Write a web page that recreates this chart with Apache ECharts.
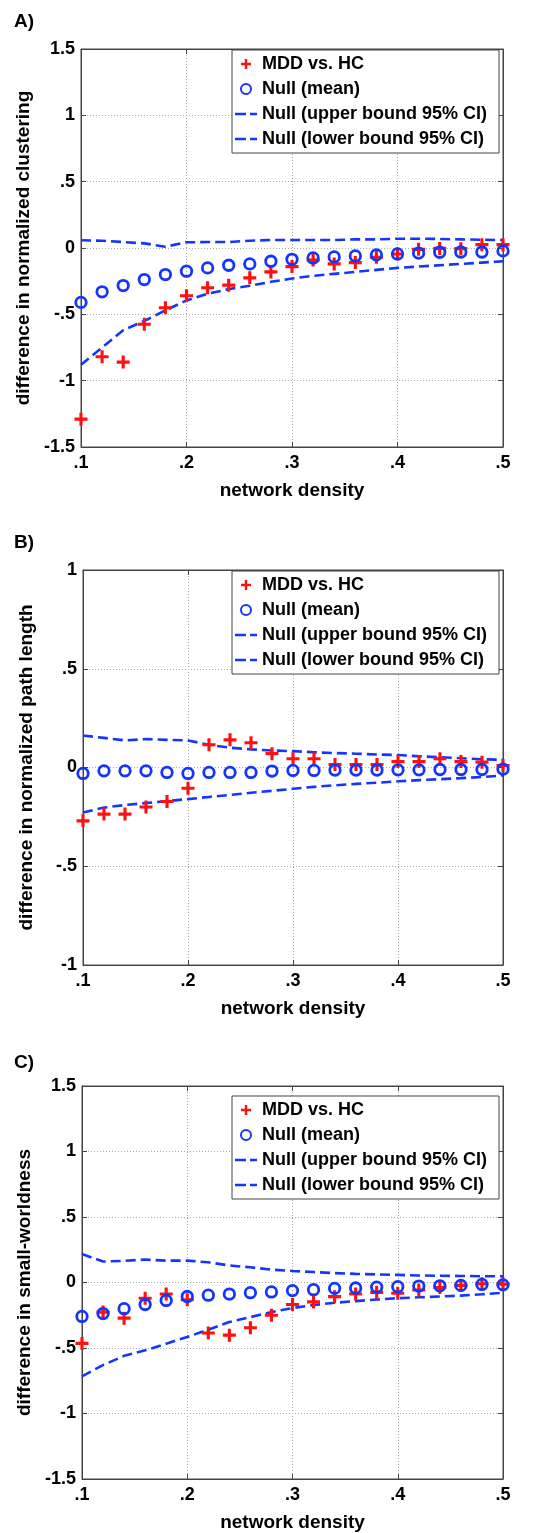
<!DOCTYPE html>
<html><head><meta charset="utf-8">
<script src="https://cdn.jsdelivr.net/npm/echarts@6/dist/echarts.min.js"></script>
<style>html,body{margin:0;padding:0;background:#fff}#c{width:533px;height:1533px}</style>
</head><body><div id="c"></div>
<script>
// ---- data ----
const density = [0.10, 0.12, 0.14, 0.16, 0.18, 0.20, 0.22, 0.24, 0.26, 0.28, 0.30, 0.32, 0.34, 0.36, 0.38, 0.40, 0.42, 0.44, 0.46, 0.48, 0.50];
const seriesNames = ['MDD vs. HC', 'Null (mean)', 'Null (upper bound 95% CI)', 'Null (lower bound 95% CI)'];
const panelLabels = ['A)', 'B)', 'C)'];
const yAxisNames = ['difference in normalized clustering', 'difference in normalized path length', 'difference in small-worldness'];
const xAxisName = 'network density';
const yRanges = [[-1.5, 1.5], [-1, 1], [-1.5, 1.5]];

// Panel A: clustering
const mddA  = [-1.29, -0.82, -0.86, -0.575, -0.45, -0.36, -0.30, -0.28, -0.225, -0.18, -0.14, -0.09, -0.12, -0.11, -0.07, -0.045, -0.01, -0.003, -0.005, 0.025, 0.025];
const nullA = [-0.41, -0.33, -0.283, -0.238, -0.20, -0.175, -0.15, -0.13, -0.12, -0.10, -0.085, -0.075, -0.067, -0.06, -0.052, -0.045, -0.038, -0.032, -0.03, -0.03, -0.022];
const upA   = [0.058, 0.055, 0.045, 0.035, 0.01, 0.043, 0.045, 0.045, 0.055, 0.06, 0.06, 0.06, 0.06, 0.065, 0.065, 0.07, 0.07, 0.068, 0.065, 0.062, 0.06];
const loA   = [-0.88, -0.75, -0.62, -0.55, -0.47, -0.395, -0.345, -0.31, -0.285, -0.255, -0.23, -0.21, -0.195, -0.18, -0.165, -0.15, -0.14, -0.13, -0.12, -0.11, -0.10];

// Panel B: path length
const mddB  = [-0.27, -0.236, -0.236, -0.20, -0.172, -0.105, 0.115, 0.14, 0.125, 0.07, 0.044, 0.044, 0.015, 0.015, 0.015, 0.03, 0.03, 0.044, 0.03, 0.027, 0.01];
const nullB = [-0.03, -0.017, -0.017, -0.017, -0.025, -0.03, -0.025, -0.025, -0.025, -0.018, -0.015, -0.015, -0.013, -0.013, -0.013, -0.012, -0.012, -0.01, -0.01, -0.01, -0.008];
const upB   = [0.162, 0.15, 0.137, 0.144, 0.14, 0.137, 0.115, 0.10, 0.092, 0.086, 0.083, 0.077, 0.073, 0.07, 0.066, 0.063, 0.057, 0.052, 0.047, 0.042, 0.039];
const loB   = [-0.228, -0.203, -0.19, -0.18, -0.17, -0.16, -0.149, -0.139, -0.128, -0.118, -0.108, -0.098, -0.09, -0.083, -0.077, -0.07, -0.064, -0.059, -0.054, -0.048, -0.04];

// Panel C: small-worldness
const mddC  = [-0.465, -0.226, -0.272, -0.12, -0.088, -0.132, -0.385, -0.402, -0.345, -0.25, -0.168, -0.148, -0.108, -0.088, -0.075, -0.082, -0.057, -0.038, -0.022, -0.01, -0.012];
const nullC = [-0.259, -0.237, -0.20, -0.168, -0.137, -0.107, -0.097, -0.088, -0.078, -0.072, -0.062, -0.055, -0.045, -0.042, -0.035, -0.032, -0.027, -0.025, -0.022, -0.015, -0.018];
const upC   = [0.217, 0.16, 0.165, 0.175, 0.167, 0.167, 0.154, 0.13, 0.116, 0.098, 0.088, 0.08, 0.072, 0.066, 0.062, 0.058, 0.054, 0.051, 0.05, 0.048, 0.047];
const loC   = [-0.716, -0.63, -0.56, -0.518, -0.467, -0.416, -0.36, -0.302, -0.264, -0.226, -0.195, -0.172, -0.155, -0.142, -0.13, -0.12, -0.113, -0.107, -0.10, -0.09, -0.078];

const panels = [
  {mdd: mddA, nul: nullA, up: upA, lo: loA},
  {mdd: mddB, nul: nullB, up: upB, lo: loB},
  {mdd: mddC, nul: nullC, up: upC, lo: loC}
];

// ---- layout / style ----
const FONT = "'Liberation Sans', Arial, Helvetica, sans-serif";
const RED = '#ff1010', BLUE = '#1535ff', AXIS = '#444';
const grids = [
  {left: 81, top: 49, width: 422, height: 398},
  {left: 83, top: 570, width: 420, height: 395},
  {left: 82, top: 1086, width: 421, height: 394}
];
const titleTops = [12, 533, 1053];
const legendTops = [50, 571, 1096];
const PLUS = 'path://M3.8,0H6.2V3.8H10V6.2H6.2V10H3.8V6.2H0V3.8H3.8Z';
const DASH_ICON = 'path://M0,0H11V2.6H0Z M15,0H22V2.6H15Z';

function fmt(v) {
  const s = String(Math.round(v * 10) / 10);
  return s.replace(/^(-?)0\./, '$1.');
}
const pair = arr => arr.map((v, j) => [density[j], v]);

const labelFont = {fontFamily: FONT, fontSize: 18, fontWeight: 'bold', color: '#000'};
const nameFont = {fontFamily: FONT, fontSize: 19, fontWeight: 'bold', color: '#000'};
const tick = {show: true, inside: true, length: 5, lineStyle: {color: AXIS}};
const gridLine = {show: true, lineStyle: {type: [1, 2], color: '#aaa'}};

const xAxes = [], yAxes = [];
grids.forEach((g, i) => {
  xAxes.push({
    type: 'value', gridIndex: i, min: 0.1, max: 0.5, interval: 0.1,
    name: xAxisName, nameLocation: 'middle', nameGap: 34, nameTextStyle: nameFont,
    axisLine: {show: true, onZero: false, lineStyle: {color: AXIS}},
    axisTick: tick,
    axisLabel: Object.assign({formatter: fmt, margin: 7}, labelFont),
    splitLine: gridLine
  });
  yAxes.push({
    type: 'value', gridIndex: i, min: yRanges[i][0], max: yRanges[i][1], interval: 0.5,
    name: yAxisNames[i], nameLocation: 'middle', nameGap: 47, nameTextStyle: nameFont,
    axisLine: {show: true, onZero: false, lineStyle: {color: AXIS}},
    axisTick: tick,
    axisLabel: Object.assign({formatter: fmt, margin: 6}, labelFont),
    splitLine: gridLine
  });
});
// mirror axes (top / right) for the boxed frame with inward ticks
grids.forEach((g, i) => {
  xAxes.push({
    type: 'value', gridIndex: i, position: 'top', min: 0.1, max: 0.5, interval: 0.1,
    axisLine: {show: true, onZero: false, lineStyle: {color: AXIS}},
    axisTick: tick, axisLabel: {show: false}, splitLine: {show: false}
  });
  yAxes.push({
    type: 'value', gridIndex: i, position: 'right', min: yRanges[i][0], max: yRanges[i][1], interval: 0.5,
    axisLine: {show: true, onZero: false, lineStyle: {color: AXIS}},
    axisTick: tick, axisLabel: {show: false}, splitLine: {show: false}
  });
});

const option = {
  animation: false,
  backgroundColor: '#fff',
  title: panelLabels.map((t, i) => ({
    text: t, left: 14, top: titleTops[i], padding: 0,
    textStyle: {fontFamily: FONT, fontSize: 19, fontWeight: 'bold', color: '#000'}
  })),
  grid: grids.map(g => Object.assign({show: true, borderColor: AXIS, borderWidth: 1, backgroundColor: '#fff'}, g)),
  legend: legendTops.map(t => ({
    data: [
      {name: seriesNames[0]},
      {name: seriesNames[1]},
      {name: seriesNames[2], icon: DASH_ICON},
      {name: seriesNames[3], icon: DASH_ICON}
    ],
    orient: 'vertical', left: 232, top: t,
    padding: [4, 12, 4, 3], itemGap: 5, itemWidth: 22, itemHeight: 10,
    borderColor: AXIS, borderWidth: 1, backgroundColor: '#fff',
    selectedMode: false,
    textStyle: {fontFamily: FONT, fontSize: 18, fontWeight: 'bold', color: '#000', lineHeight: 20}
  })),
  xAxis: xAxes,
  yAxis: yAxes,
  series: []
};

panels.forEach((p, i) => {
  option.series.push({
    name: seriesNames[0], type: 'scatter', xAxisIndex: i, yAxisIndex: i,
    data: pair(p.mdd), symbol: PLUS, symbolSize: 13, symbolKeepAspect: true,
    itemStyle: {color: RED, opacity: 1}, z: 3
  });
  option.series.push({
    name: seriesNames[1], type: 'scatter', xAxisIndex: i, yAxisIndex: i,
    data: pair(p.nul), symbol: 'circle', symbolSize: 10.5,
    itemStyle: {color: 'rgba(255,255,255,0)', borderColor: BLUE, borderWidth: 2.8, opacity: 1}, z: 4
  });
  [p.up, p.lo].forEach((arr, k) => {
    option.series.push({
      name: seriesNames[2 + k], type: 'line', xAxisIndex: i, yAxisIndex: i,
      data: pair(arr), symbol: 'none', showSymbol: false, symbolKeepAspect: true,
      lineStyle: {color: BLUE, width: 2.6, type: [10, 5]}, itemStyle: {color: BLUE}, z: 2
    });
  });
});

const chart = echarts.init(document.getElementById('c'), null, {renderer: 'canvas'});
chart.setOption(option);
</script>
</body></html>
